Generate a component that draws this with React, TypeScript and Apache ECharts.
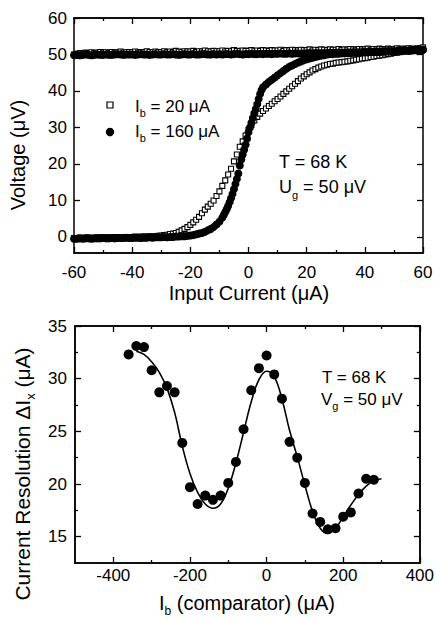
import React, { useEffect, useRef } from "react";
import * as echarts from "echarts";

// ---------- Top panel: V(I) hysteresis curves ----------
const currentGrid = [
  -60, -59, -58, -57, -56, -55, -54, -53, -52, -51, -50, -49, -48, -47, -46, -45, -44, -43, -42, -41,
  -40, -39, -38, -37, -36, -35, -34, -33, -32, -31, -30, -29, -28, -27, -26, -25, -24, -23, -22, -21,
  -20, -19, -18, -17, -16, -15, -14, -13, -12, -11, -10, -9, -8, -7, -6, -5, -4, -3, -2, -1,
  0, 1, 2, 3, 4, 5, 6, 7, 8, 9, 10, 11, 12, 13, 14, 15, 16, 17, 18, 19,
  20, 21, 22, 23, 24, 25, 26, 27, 28, 29, 30, 31, 32, 33, 34, 35, 36, 37, 38, 39,
  40, 41, 42, 43, 44, 45, 46, 47, 48, 49, 50, 51, 52, 53, 54, 55, 56, 57, 58, 59, 60,
];

// Ib = 20 uA (open squares), rising branch
const ib20Rising = [
  -0.3, -0.3, -0.2, -0.3, -0.2, -0.2, -0.3, -0.2, -0.2, -0.1,
  -0.2, -0.1, -0.1, -0.2, -0.1, -0.1, 0.0, -0.1, 0.0, 0.0,
  0.0, 0.1, 0.0, 0.1, 0.1, 0.1, 0.2, 0.2, 0.2, 0.3,
  0.4, 0.5, 0.6, 0.8, 0.9, 1.1, 1.4,
  1.8, 2.2, 2.7, 3.3, 4.0, 4.7, 5.5, 6.5, 7.5, 8.3,
  9.1, 10.0, 11.2, 12.5, 14.0, 15.5, 17.1, 18.7, 20.7, 22.6,
  24.7, 26.2, 27.8,
  29.3, 30.7, 31.9, 32.9, 33.8, 34.5, 35.2, 35.9, 36.5, 37.2,
  37.8, 38.5, 39.2, 39.9, 40.6, 41.3, 42.0, 42.7, 43.4, 44.0,
  44.6, 45.1, 45.6, 46.0, 46.4, 46.7, 47.0, 47.2, 47.4, 47.5,
  47.7, 47.8, 47.9, 48.0, 48.1, 48.3, 48.4, 48.6, 48.7, 48.9,
  49.0, 49.1, 49.3, 49.4, 49.6, 49.7, 49.8, 50.0, 50.1, 50.2,
  50.4, 50.5, 50.6, 50.8, 50.9, 51.0, 51.2, 51.3, 51.5, 51.6, 51.8,
];

// Ib = 20 uA (open squares), return branch
const ib20Return = [
  50.0, 50.2, 50.4, 50.3, 50.5, 50.4, 50.6, 50.4, 50.5, 50.7,
  50.5, 50.6, 50.4, 50.7, 50.5, 50.6, 50.8, 50.5, 50.6, 50.7,
  50.6, 50.8, 50.5, 50.7, 50.6, 50.9, 50.7, 50.6, 50.8, 50.7,
  50.7, 50.9, 50.6, 50.8, 50.7, 51.0, 50.8, 50.7, 50.9, 50.8,
  50.8, 51.0, 50.7, 50.9, 50.8, 51.1, 50.9, 50.8, 51.0, 50.9,
  50.9, 51.1, 50.8, 51.0, 50.9, 51.2, 51.0, 50.9, 51.1, 51.0,
  51.0, 51.2, 50.9, 51.1, 51.0, 51.2, 51.1, 51.0, 51.2, 51.1,
  51.1, 51.3, 51.0, 51.2, 51.1, 51.3, 51.2, 51.1, 51.3, 51.2,
  51.2, 51.4, 51.1, 51.3, 51.2, 51.4, 51.3, 51.2, 51.4, 51.3,
  51.3, 51.5, 51.2, 51.4, 51.3, 51.5, 51.4, 51.3, 51.5, 51.4,
  51.4, 51.6, 51.3, 51.5, 51.4, 51.6, 51.5, 51.4, 51.6, 51.5,
  51.5, 51.7, 51.4, 51.6, 51.5, 51.7, 51.6, 51.5, 51.7, 51.6, 51.9,
];

// Ib = 160 uA (filled circles), rising branch (finer steps on the steep part)
const ib160RisingX = [
  -60, -59, -58, -57, -56, -55, -54, -53, -52, -51, -50, -49, -48, -47, -46, -45, -44, -43, -42, -41,
  -40, -39, -38, -37, -36, -35, -34, -33, -32, -31, -30, -29, -28, -27, -26, -25, -24, -23, -22, -21,
  -20, -19, -18, -17, -16, -15, -14, -13, -12, -11, -10, -9,
  -8.5, -8, -7.5, -7, -6.5, -6, -5.5, -5, -4.5, -4, -3.5, -3, -2.5, -2, -1.5, -1, -0.5, 0,
  0.5, 1, 1.5, 2, 2.5, 3, 3.5, 4, 4.5, 5,
  6, 7, 8, 9, 10, 11, 12, 13, 14, 15, 16, 17, 18, 19, 20, 21, 22, 23, 24, 25,
  26, 27, 28, 29, 30, 31, 32, 33, 34, 35, 36, 37, 38, 39, 40, 41, 42, 43, 44, 45,
  46, 47, 48, 49, 50, 51, 52, 53, 54, 55, 56, 57, 58, 59, 60,
];
const ib160Rising = [
  -0.5, -0.5, -0.4, -0.5, -0.4, -0.4, -0.5, -0.4, -0.4, -0.4,
  -0.3, -0.4, -0.4, -0.3, -0.4, -0.3, -0.3, -0.3, -0.2, -0.3,
  -0.3, -0.2, -0.2, -0.3, -0.2, -0.2, -0.1, -0.2, -0.1, -0.1,
  -0.1, 0.0, -0.1, 0.0, 0.0, 0.1, 0.1, 0.2, 0.2,
  0.3, 0.4, 0.5, 0.7, 0.9, 1.1, 1.4, 1.8, 2.2, 2.7, 3.4, 4.2, 5.3,
  6.0, 6.8, 7.6, 8.5, 9.5, 10.6, 11.8, 13.1, 14.5, 15.9, 17.4, 19.6, 21.2, 22.6,
  23.9, 25.3, 27.0, 28.7, 30.0, 31.3, 32.6, 33.9, 35.1, 36.4, 37.8, 39.2, 40.3, 41.0,
  41.8, 42.5, 43.1, 43.7, 44.3, 44.9, 45.5, 46.1, 46.6, 47.0,
  47.4, 47.8, 48.1, 48.4, 48.7, 48.9, 49.1, 49.3, 49.5, 49.7,
  49.8, 50.0, 50.1, 50.1, 50.2, 50.2, 50.3, 50.3, 50.4, 50.4,
  50.5, 50.5, 50.5, 50.6, 50.6, 50.6, 50.7, 50.7, 50.7, 50.8,
  50.8, 50.8, 50.9, 50.9, 50.9, 51.0, 51.0, 51.0, 51.1, 51.1,
  51.1, 51.2, 51.2, 51.2, 51.3,
];

// Ib = 160 uA (filled circles), return branch
const ib160Return = [
  49.8, 49.9, 49.8, 49.9, 50.0, 49.9, 49.8, 49.9, 50.0, 49.9,
  49.9, 50.0, 49.9, 49.9, 50.0, 50.1, 50.0, 49.9, 50.0, 50.0,
  50.0, 49.9, 50.0, 50.1, 50.0, 50.0, 49.9, 50.0, 50.1, 50.0,
  50.0, 50.1, 50.0, 50.0, 50.1, 50.0, 49.9, 50.0, 50.1, 50.0,
  50.0, 50.1, 50.0, 50.0, 50.1, 50.1, 50.0, 50.0, 50.1, 50.0,
  50.1, 50.0, 50.1, 50.1, 50.0, 50.1, 50.2, 50.1, 50.0, 50.1,
  50.1, 50.2, 50.1, 50.1, 50.2, 50.1, 50.2, 50.2, 50.1, 50.2,
  50.2, 50.3, 50.2, 50.2, 50.3, 50.2, 50.3, 50.3, 50.2, 50.3,
  50.3, 50.4, 50.3, 50.4, 50.4, 50.3, 50.4, 50.4, 50.5, 50.4,
  50.5, 50.5, 50.4, 50.5, 50.6, 50.5, 50.6, 50.6, 50.5, 50.6,
  50.7, 50.6, 50.7, 50.7, 50.8, 50.7, 50.8, 50.8, 50.9, 50.8,
  50.9, 50.9, 51.0, 51.0, 51.1, 51.0, 51.1, 51.2, 51.1, 51.2, 51.3,
];

const topXTicks = [-60, -40, -20, 0, 20, 40, 60];
const topXMinor = [-50, -30, -10, 10, 30, 50];
const topYTicks = [0, 10, 20, 30, 40, 50, 60];

// ---------- Bottom panel: current resolution vs comparator bias ----------
const biasCurrent = [
  -360, -340, -320, -300, -280, -260, -240, -220, -200, -180, -160, -140, -120, -100, -80, -60, -40,
  -20, 0, 20, 40, 60, 80, 100, 120, 140, 160, 180, 200, 220, 240, 260, 280,
];
const resolution = [
  32.3, 33.1, 33.0, 30.8, 28.7, 29.3, 28.7, 23.9, 19.7, 18.1, 18.9, 18.5, 18.9, 20.1, 22.1, 25.2, 28.9,
  31.0, 32.2, 30.4, 28.1, 24.0, 22.5, 20.1, 17.2, 16.4, 15.7, 15.8, 16.9, 17.3, 19.1, 20.5, 20.4,
];
const fitCurrent = [
  -340, -320, -300, -280, -260, -240, -220, -200, -180, -160, -140, -120, -100, -80, -60, -40, -20,
  0, 20, 40, 60, 80, 100, 120, 140, 160, 180, 200, 220, 240, 260, 280, 300,
];
const fitResolution = [
  32.6, 32.3, 31.6, 30.6, 29.1, 26.8, 23.6, 21.0, 19.2, 18.1, 17.7, 18.1, 19.6, 22.0, 24.9, 27.8, 29.9,
  30.7, 30.2, 28.1, 25.1, 22.6, 19.9, 17.4, 15.8, 15.3, 15.8, 16.9, 18.0, 19.0, 19.8, 20.3, 20.5,
];

const botXTicks = [-400, -200, 0, 200, 400];
const botXMinor = [-300, -100, 100, 300];
const botYTicks = [15, 20, 25, 30, 35];
const botYMinor = [17.5, 22.5, 27.5, 32.5];

const FONT = '"Liberation Sans", Arial, Helvetica, sans-serif';

function pairs(xs: number[], ys: number[]) {
  const n = Math.min(xs.length, ys.length);
  const out: number[][] = [];
  for (let i = 0; i < n; i++) out.push([xs[i], ys[i]]);
  return out;
}

function frameAxis(
  gridIndex: number,
  position: string,
  min: number,
  max: number,
  ticks: number[],
  len: number,
  labelMargin: number | null
) {
  return {
    type: "value",
    gridIndex,
    position,
    min,
    max,
    axisLine: { show: true, onZero: false, lineStyle: { color: "#000", width: 1.5 } },
    axisTick: { show: true, inside: true, length: len, customValues: ticks, lineStyle: { color: "#000", width: 1.3 } },
    axisLabel:
      labelMargin === null
        ? { show: false }
        : { show: true, customValues: ticks, margin: labelMargin, color: "#000", fontSize: 17, fontFamily: FONT },
    splitLine: { show: false },
  };
}

function rich(size: number) {
  return {
    n: { fontSize: size, fontFamily: FONT, fill: "#000", lineHeight: size + 8 },
    s: { fontSize: Math.round(size * 0.62), fontFamily: FONT, fill: "#000", lineHeight: 10, verticalAlign: "bottom" },
  };
}

function label(text: string, x: number, y: number, size: number, align: string, rotation = 0) {
  return {
    type: "text",
    x,
    y,
    rotation,
    z: 100,
    style: { text, rich: rich(size), fontSize: size, fontFamily: FONT, fill: "#000", align, verticalAlign: "middle" },
  };
}

export default function App() {
  const ref = useRef<HTMLDivElement>(null);

  useEffect(() => {
    if (!ref.current) return;
    const chart = echarts.init(ref.current, null, { renderer: "svg" });
    const square = { color: "#fff", borderColor: "#000", borderWidth: 1.1, opacity: 1 };
    const dot = { color: "#000", opacity: 1 };
    const option: any = {
      animation: false,
      backgroundColor: "#fff",
      grid: [
        { left: 74, top: 18, width: 349, height: 235 },
        { left: 75, top: 326, width: 347, height: 237 },
      ],
      xAxis: [
        frameAxis(0, "bottom", -60, 60, topXTicks, 6, 11),
        frameAxis(0, "bottom", -60, 60, topXMinor, 3, null),
        frameAxis(0, "top", -60, 60, topXTicks, 6, null),
        frameAxis(0, "top", -60, 60, topXMinor, 3, null),
        frameAxis(1, "bottom", -500, 400, botXTicks, 6, 4),
        frameAxis(1, "bottom", -500, 400, botXMinor, 3, null),
        frameAxis(1, "top", -500, 400, botXTicks, 6, null),
        frameAxis(1, "top", -500, 400, botXMinor, 3, null),
      ],
      yAxis: [
        frameAxis(0, "left", -4.4, 60, topYTicks, 6, 7),
        frameAxis(0, "right", -4.4, 60, topYTicks, 6, null),
        frameAxis(1, "left", 12.5, 35, botYTicks, 6, 8),
        frameAxis(1, "left", 12.5, 35, botYMinor, 3, null),
        frameAxis(1, "right", 12.5, 35, botYTicks, 6, null),
        frameAxis(1, "right", 12.5, 35, botYMinor, 3, null),
      ],
      series: [
        {
          name: "Ib = 20 μA rising",
          type: "scatter",
          xAxisIndex: 0,
          yAxisIndex: 0,
          symbol: "rect",
          symbolSize: 5,
          itemStyle: square,
          data: pairs(currentGrid, ib20Rising),
        },
        {
          name: "Ib = 20 μA return",
          type: "scatter",
          xAxisIndex: 0,
          yAxisIndex: 0,
          symbol: "rect",
          symbolSize: 5,
          itemStyle: square,
          data: pairs(currentGrid, ib20Return),
        },
        {
          name: "Ib = 160 μA rising",
          type: "scatter",
          xAxisIndex: 0,
          yAxisIndex: 0,
          symbol: "circle",
          symbolSize: 8,
          itemStyle: dot,
          data: pairs(ib160RisingX, ib160Rising),
        },
        {
          name: "Ib = 160 μA return",
          type: "scatter",
          xAxisIndex: 0,
          yAxisIndex: 0,
          symbol: "circle",
          symbolSize: 8,
          itemStyle: dot,
          data: pairs(currentGrid, ib160Return),
        },
        {
          name: "fit",
          type: "line",
          xAxisIndex: 4,
          yAxisIndex: 2,
          smooth: 0.4,
          showSymbol: false,
          symbol: "none",
          lineStyle: { color: "#000", width: 1.6 },
          data: pairs(fitCurrent, fitResolution),
        },
        {
          name: "resolution",
          type: "scatter",
          xAxisIndex: 4,
          yAxisIndex: 2,
          symbol: "circle",
          symbolSize: 10,
          itemStyle: dot,
          data: pairs(biasCurrent, resolution),
        },
      ],
      graphic: [
        // legend (top panel)
        {
          type: "rect",
          z: 100,
          shape: { x: 107, y: 102, width: 6, height: 6 },
          style: { fill: "#fff", stroke: "#000", lineWidth: 1.2 },
        },
        { type: "circle", z: 100, shape: { cx: 110, cy: 132, r: 4.2 }, style: { fill: "#000" } },
        label("{n|I}{s|b}{n| = 20 μA}", 135, 106, 17, "left"),
        label("{n|I}{s|b}{n| = 160 μA}", 135, 131, 17, "left"),
        // annotations
        label("{n|T = 68 K}", 279, 162, 18, "left"),
        label("{n|U}{s|g}{n| = 50 μV}", 279, 187, 18, "left"),
        label("{n|T = 68 K}", 322, 377, 17, "left"),
        label("{n|V}{s|g}{n| = 50 μV}", 321, 399, 17, "left"),
        // axis titles
        label("{n|Voltage (μV)}", 18, 155, 20, "center", Math.PI / 2),
        label("{n|Input Current (μA)}", 249, 293, 20, "center"),
        label("{n|Current Resolution ΔI}{s|x}{n| (μA)}", 22, 474, 21, "center", Math.PI / 2),
        label("{n|I}{s|b}{n| (comparator) (μA)}", 247, 603, 20, "center"),
      ],
    };
    chart.setOption(option);
    return () => chart.dispose();
  }, []);

  return (
    <div
      ref={ref}
      style={{ position: "fixed", left: 0, top: 0, width: 437, height: 620, background: "#fff" }}
    />
  );
}
